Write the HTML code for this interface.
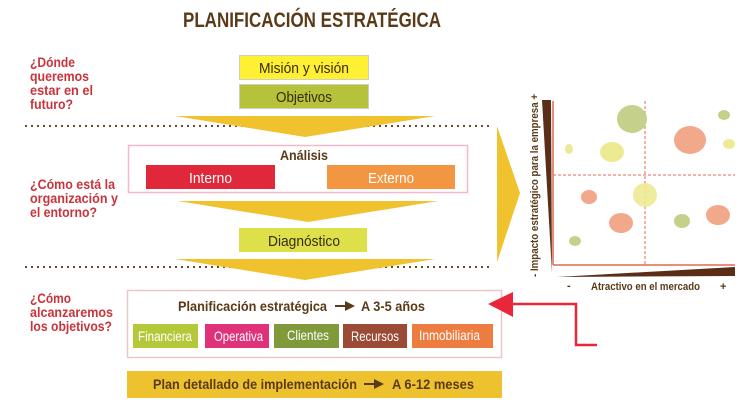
<!DOCTYPE html>
<html><head><meta charset="utf-8"><style>
html,body{margin:0;padding:0;background:#fff;}
svg{display:block;}
text{font-family:"Liberation Sans Narrow","Liberation Sans",sans-serif;}
</style></head><body>
<svg width="750" height="400" viewBox="0 0 750 400" xmlns="http://www.w3.org/2000/svg">
<text x="312" y="27" text-anchor="middle" font-size="21" font-weight="bold" fill="#5a3a17" textLength="258" lengthAdjust="spacingAndGlyphs">PLANIFICACIÓN ESTRATÉGICA</text>

<g font-size="13.5" font-weight="bold" fill="#c8343c">
<text x="30" y="67" textLength="45" lengthAdjust="spacingAndGlyphs">¿Dónde</text>
<text x="30" y="81" textLength="59" lengthAdjust="spacingAndGlyphs">queremos</text>
<text x="30" y="95" textLength="63" lengthAdjust="spacingAndGlyphs">estar en el</text>
<text x="30" y="109" textLength="43" lengthAdjust="spacingAndGlyphs">futuro?</text>
<text x="30" y="189" textLength="85" lengthAdjust="spacingAndGlyphs">¿Cómo está la</text>
<text x="30" y="203" textLength="88" lengthAdjust="spacingAndGlyphs">organización y</text>
<text x="30" y="217" textLength="67" lengthAdjust="spacingAndGlyphs">el entorno?</text>
<text x="30" y="303" textLength="41" lengthAdjust="spacingAndGlyphs">¿Cómo</text>
<text x="30" y="317" textLength="83" lengthAdjust="spacingAndGlyphs">alcanzaremos</text>
<text x="30" y="331" textLength="82" lengthAdjust="spacingAndGlyphs">los objetivos?</text>
</g>

<line x1="25" y1="126" x2="492" y2="126" stroke="#6b4a2a" stroke-width="2" stroke-dasharray="2,4"/>
<line x1="25" y1="267" x2="492" y2="267" stroke="#6b4a2a" stroke-width="2" stroke-dasharray="2,4"/>

<rect x="239.5" y="55.5" width="129" height="24" fill="#fff034" stroke="#cfcfc0"/>
<text x="259" y="73" font-size="15" fill="#3a2a10" textLength="90" lengthAdjust="spacingAndGlyphs">Misión y visión</text>
<rect x="239.5" y="84.5" width="129" height="24" fill="#b5c23a" stroke="#cfcfc0"/>
<text x="276" y="102" font-size="15" fill="#3a2a10" textLength="56" lengthAdjust="spacingAndGlyphs">Objetivos</text>

<polygon points="175,116 435,116 305,137" fill="#f0c22e"/>
<polygon points="178,201 438,201 308,222" fill="#f0c22e"/>
<polygon points="175,259 435,259 305,280" fill="#f0c22e"/>
<polygon points="497,126 520,193 497,262" fill="#f0c22e"/>

<rect x="128.5" y="145.5" width="339" height="47" fill="#fff" stroke="#f4b8c8" stroke-width="1.5"/>
<text x="280" y="160" font-size="13.5" font-weight="bold" fill="#5a3a17" textLength="48" lengthAdjust="spacingAndGlyphs">Análisis</text>
<rect x="146" y="165" width="129" height="24" fill="#e0283a"/>
<text x="189" y="183" font-size="15" fill="#fff" textLength="43" lengthAdjust="spacingAndGlyphs">Interno</text>
<rect x="327" y="165" width="128" height="24" fill="#f39642"/>
<text x="368" y="183" font-size="15" fill="#fff" textLength="46" lengthAdjust="spacingAndGlyphs">Externo</text>

<rect x="239" y="228" width="128" height="24" fill="#dde048"/>
<text x="268" y="246" font-size="15" fill="#3a2a10" textLength="72" lengthAdjust="spacingAndGlyphs">Diagnóstico</text>

<rect x="127.5" y="290.5" width="374" height="67" fill="#fff" stroke="#eac8c8" stroke-width="1.5"/>
<text x="178" y="311" font-size="14" font-weight="bold" fill="#5a3a17" textLength="149" lengthAdjust="spacingAndGlyphs">Planificación estratégica</text>
<line x1="335" y1="306" x2="347" y2="306" stroke="#5a3a17" stroke-width="2"/>
<polygon points="345,301 355,306 345,311" fill="#5a3a17"/>
<text x="361" y="311" font-size="14" font-weight="bold" fill="#5a3a17" textLength="64" lengthAdjust="spacingAndGlyphs">A 3-5 años</text>

<g font-size="14" fill="#fff">
<rect x="133" y="324" width="65" height="24" fill="#b5c83a"/><text x="138" y="341" textLength="54" lengthAdjust="spacingAndGlyphs">Financiera</text>
<rect x="205" y="324" width="64" height="24" fill="#e0327a"/><text x="214" y="341" textLength="49" lengthAdjust="spacingAndGlyphs">Operativa</text>
<rect x="274" y="324" width="65" height="24" fill="#7e9a3a"/><text x="287" y="340" textLength="42" lengthAdjust="spacingAndGlyphs">Clientes</text>
<rect x="343" y="324" width="64" height="24" fill="#9b4a35"/><text x="351" y="341" textLength="48" lengthAdjust="spacingAndGlyphs">Recursos</text>
<rect x="412" y="324" width="81" height="24" fill="#ec7c40"/><text x="419" y="340" textLength="61" lengthAdjust="spacingAndGlyphs">Inmobiliaria</text>
</g>

<rect x="127" y="371" width="375" height="27" fill="#eec22e"/>
<text x="153" y="389" font-size="14" font-weight="bold" fill="#5a3a17" textLength="204" lengthAdjust="spacingAndGlyphs">Plan detallado de implementación</text>
<line x1="364" y1="384" x2="376" y2="384" stroke="#5a3a17" stroke-width="2"/>
<polygon points="374,379 384,384 374,389" fill="#5a3a17"/>
<text x="392" y="389" font-size="14" font-weight="bold" fill="#5a3a17" textLength="82" lengthAdjust="spacingAndGlyphs">A 6-12 meses</text>

<polyline points="597,345 576,345 576,304 510,304" fill="none" stroke="#e8283a" stroke-width="2.5"/>
<polygon points="488,304 513,292 513,317" fill="#e8283a"/>

<polygon points="542,100 551,100 552,273" fill="#5a2e16"/>
<polygon points="557,277 735,267 735,276" fill="#5a2e16"/>
<line x1="553" y1="101" x2="553" y2="265" stroke="#e06a50" stroke-width="1.5"/>
<line x1="553" y1="265" x2="735" y2="265" stroke="#e06a50" stroke-width="1.5"/>
<line x1="645" y1="101" x2="645" y2="265" stroke="#e06a50" stroke-width="1" stroke-dasharray="3,2"/>
<line x1="553" y1="175" x2="735" y2="175" stroke="#e06a50" stroke-width="1" stroke-dasharray="3,2"/>
<g>
<ellipse cx="632" cy="119" rx="15" ry="14" fill="#c5d08a"/>
<ellipse cx="724" cy="115" rx="6" ry="5" fill="#c5d08a"/>
<ellipse cx="690" cy="140" rx="16" ry="14" fill="#f2a88a"/>
<ellipse cx="729" cy="144" rx="6" ry="5" fill="#eeea94"/>
<ellipse cx="569" cy="149" rx="4" ry="5" fill="#eeea94"/>
<ellipse cx="612" cy="152" rx="12" ry="10" fill="#eeea94"/>
<ellipse cx="589" cy="197" rx="8" ry="7" fill="#f2a88a"/>
<ellipse cx="645" cy="195" rx="12" ry="12" fill="#eeea94" opacity="0.9"/>
<ellipse cx="621" cy="223" rx="12" ry="10" fill="#f2a88a"/>
<ellipse cx="682" cy="221" rx="8" ry="7" fill="#c5d08a"/>
<ellipse cx="718" cy="215" rx="12" ry="10" fill="#f2a88a"/>
<ellipse cx="575" cy="241" rx="6" ry="5" fill="#c5d08a"/>
</g>
<text transform="translate(538,277) rotate(-90)" font-size="11" font-weight="bold" fill="#5a3a17" textLength="183" lengthAdjust="spacingAndGlyphs">- Impacto estratégico para la empresa +</text>
<g font-size="11" font-weight="bold" fill="#5a3a17">
<text x="567" y="289">-</text>
<text x="591" y="290" textLength="109" lengthAdjust="spacingAndGlyphs">Atractivo en el mercado</text>
<text x="720" y="290">+</text>
</g>
</svg>
</body></html>
